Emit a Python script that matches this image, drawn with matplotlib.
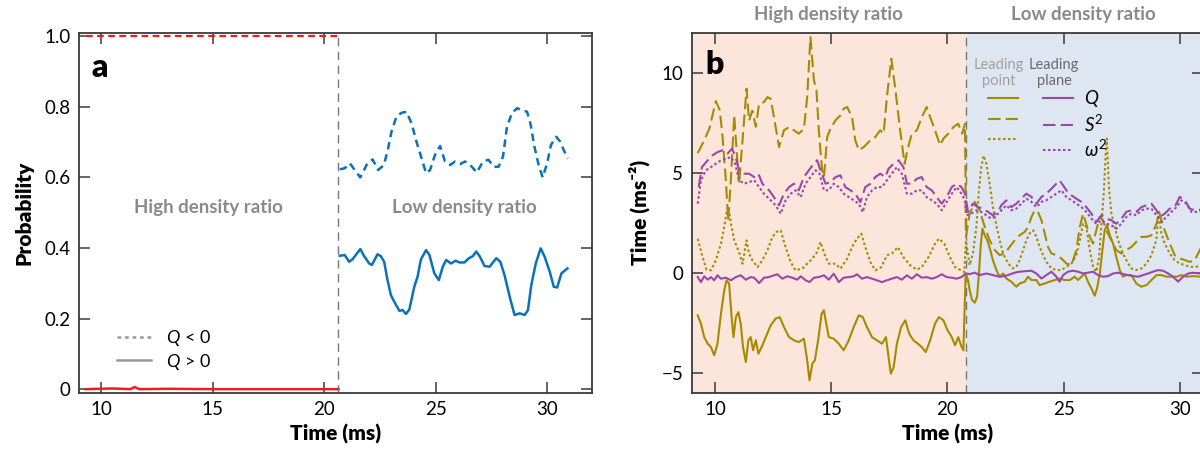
import numpy as np
import matplotlib
matplotlib.use("Agg")
import matplotlib.pyplot as plt
from matplotlib.lines import Line2D
import matplotlib.transforms as mtransforms

plt.rcParams["font.family"] = ["Lato", "DejaVu Sans"]
plt.rcParams["mathtext.fontset"] = "custom"
plt.rcParams["mathtext.rm"] = "Lato"
plt.rcParams["mathtext.it"] = "Lato:italic"
plt.rcParams["mathtext.bf"] = "Lato:bold"

# ---- panel a: probability of Q<0 / Q>0 ----
RED_T = [9.3, 10.5, 11.3, 11.5, 11.7, 13.0, 15.0, 17.0, 19.0, 20.65]
RED_NEG = [1.0, 1.0, 1.0, 1.0, 1.0, 1.0, 1.0, 1.0, 1.0, 1.0]
RED_POS = [0.0, 0.002, 0.0, 0.006, 0.0, 0.001, 0.0, 0.0, 0.0, 0.0]

BLUE_NEG_T = [20.70, 20.92, 21.15, 21.37, 21.62, 21.90, 22.17, 22.42, 22.68, 22.87,
              23.02, 23.24, 23.47, 23.69, 23.92, 24.14, 24.37, 24.57, 24.75, 24.97,
              25.20, 25.42, 25.65, 25.87, 26.10, 26.32, 26.55, 26.85, 27.12, 27.37,
              27.60, 27.82, 28.02, 28.20, 28.42, 28.65, 28.87, 29.10, 29.25, 29.43,
              29.62, 29.80, 30.00, 30.17, 30.41, 30.59, 30.74, 30.93]
BLUE_NEG = [0.623, 0.626, 0.640, 0.621, 0.600, 0.635, 0.651, 0.621, 0.635, 0.683,
            0.730, 0.772, 0.783, 0.786, 0.753, 0.701, 0.654, 0.612, 0.621, 0.664,
            0.689, 0.645, 0.635, 0.645, 0.638, 0.645, 0.635, 0.614, 0.645, 0.650,
            0.630, 0.630, 0.659, 0.744, 0.782, 0.796, 0.791, 0.786, 0.753, 0.687,
            0.635, 0.600, 0.640, 0.692, 0.715, 0.701, 0.678, 0.654]

BLUE_POS_T = [20.70, 20.92, 21.12, 21.27, 21.62, 21.79, 22.02, 22.14, 22.39, 22.54,
              22.69, 22.84, 22.99, 23.14, 23.37, 23.52, 23.67, 23.82, 24.04, 24.19,
              24.34, 24.57, 24.72, 24.94, 25.14, 25.32, 25.47, 25.69, 25.89, 26.07,
              26.29, 26.49, 26.67, 26.82, 26.97, 27.19, 27.42, 27.72, 27.90, 28.09,
              28.32, 28.54, 28.77, 28.99, 29.14, 29.29, 29.49, 29.71, 29.89, 30.12,
              30.30, 30.45, 30.64, 30.91]
BLUE_POS = [0.378, 0.380, 0.361, 0.368, 0.397, 0.377, 0.356, 0.352, 0.382, 0.377,
            0.361, 0.309, 0.267, 0.248, 0.222, 0.224, 0.213, 0.226, 0.290, 0.319,
            0.368, 0.394, 0.380, 0.328, 0.309, 0.347, 0.366, 0.356, 0.364, 0.359,
            0.359, 0.371, 0.377, 0.390, 0.377, 0.349, 0.347, 0.371, 0.361, 0.323,
            0.262, 0.210, 0.215, 0.210, 0.224, 0.295, 0.356, 0.399, 0.375, 0.332,
            0.290, 0.288, 0.328, 0.342]

# ---- panel b: leading point (gold) / leading plane (purple) ----
PT_Q_T = [9.26, 9.40, 9.54, 9.69, 9.83, 9.97, 10.11, 10.26, 10.40, 10.50, 10.61, 10.73,
          10.80, 10.90, 11.01, 11.11, 11.21, 11.33, 11.44, 11.54, 11.64, 11.76, 11.87,
          12.01, 12.19, 12.40, 12.61, 12.79, 12.97, 13.19, 13.40, 13.61, 13.83, 13.97,
          14.07, 14.19, 14.30, 14.44, 14.59, 14.69, 14.79, 14.90, 15.11, 15.33, 15.54,
          15.76, 15.97, 16.19, 16.36, 16.54, 16.76, 16.97, 17.19, 17.36, 17.47, 17.57,
          17.69, 17.83, 18.01, 18.19, 18.36, 18.54, 18.73, 18.90, 19.07, 19.26, 19.47,
          19.64, 19.83, 20.01, 20.19, 20.33, 20.47, 20.61, 20.69,
          20.79, 20.89, 20.96, 21.06, 21.18, 21.28, 21.36, 21.43, 21.51, 21.61, 21.72,
          21.85, 21.96, 22.11, 22.25, 22.40, 22.54, 22.75, 22.97, 23.11, 23.33, 23.47,
          23.62, 23.83, 23.97, 24.19, 24.40, 24.62, 24.83, 25.05, 25.27, 25.48, 25.62,
          25.77, 25.91, 26.05, 26.20, 26.34, 26.44, 26.56, 26.67, 26.77, 26.87, 26.99,
          27.13, 27.27, 27.42, 27.56, 27.70, 27.92, 28.13, 28.35, 28.57, 28.78, 29.00,
          29.21, 29.43, 29.64, 29.86, 30.07, 30.29, 30.57, 30.86, 31.0]
PT_Q = [-2.13, -2.55, -3.22, -3.55, -3.72, -4.13, -3.55, -2.05, -0.88, -0.38, -0.55, -2.38,
        -3.22, -2.22, -1.97, -2.55, -3.72, -4.47, -3.38, -3.22, -3.88, -3.38, -4.05,
        -3.72, -3.22, -2.63, -2.30, -2.22, -2.72, -3.22, -3.38, -3.47, -3.30, -4.38,
        -5.38, -4.55, -4.38, -3.38, -2.05, -1.88, -2.55, -3.22, -3.30, -3.55, -3.88,
        -3.38, -2.72, -2.13, -2.22, -2.72, -3.22, -3.38, -3.55, -3.22, -4.22, -5.05,
        -4.72, -3.55, -2.72, -2.38, -3.05, -3.38, -3.55, -3.72, -3.97, -3.38, -2.55,
        -2.22, -2.38, -2.88, -3.22, -3.63, -3.22, -3.70, -3.88,
        -0.04, -0.37, -0.87, -1.36, -1.50, -1.20, -0.04, 1.29, 2.20, 1.87, 1.62,
        1.13, 0.63, 0.13, -0.20, -0.04, -0.29, -0.45, -0.70, -0.54, -0.45, -0.20,
        -0.37, -0.37, -0.62, -0.54, -0.45, -0.37, -0.29, -0.37, -0.37, -0.20, -0.37,
        -0.20, -0.04, -0.45, -0.79, -1.15, -0.79, -0.04, 1.12, 2.12, 2.37, 1.87,
        1.46, 0.79, 0.13, -0.20, -0.12, -0.12, -0.54, -0.70, -0.62, -0.37, -0.12,
        -0.12, -0.20, -0.20, -0.20, -0.12, -0.20, -0.17, -0.20, -0.2]

PT_S2_T = [9.26, 9.54, 9.76, 10.04, 10.21, 10.33, 10.47, 10.57, 10.68, 10.83, 10.94, 11.04,
           11.20, 11.36, 11.47, 11.61, 11.76, 11.90, 12.11, 12.26, 12.40, 12.54, 12.76,
           12.97, 13.19, 13.40, 13.61, 13.83, 13.97, 14.11, 14.26, 14.37, 14.47, 14.61,
           14.69, 14.83, 14.97, 15.19, 15.40, 15.54, 15.69, 15.90, 16.04, 16.19, 16.40,
           16.69, 16.90, 17.11, 17.26, 17.40, 17.59, 17.76, 17.97, 18.16, 18.30, 18.47,
           18.69, 18.90, 19.11, 19.26, 19.47, 19.69, 19.83, 20.04, 20.26, 20.47, 20.64,
           20.76,
           20.80, 20.96, 21.18, 21.39, 21.61, 21.82, 22.04, 22.25, 22.47, 22.68, 22.90,
           23.11, 23.33, 23.47, 23.62, 23.76, 23.90, 24.05, 24.19, 24.33, 24.48, 24.69,
           24.91, 25.12, 25.34, 25.55, 25.70, 25.84, 25.95, 26.13, 26.27, 26.41, 26.56,
           26.70, 26.84, 27.06, 27.27, 27.49, 27.70, 27.92, 28.13, 28.35, 28.57, 28.78,
           29.00, 29.11, 29.21, 29.35, 29.57, 29.78, 30.00, 30.22, 30.43, 30.65, 30.79,
           30.86, 31.0]
PT_S2 = [5.98, 6.62, 7.20, 8.58, 8.12, 6.78, 4.62, 2.60, 4.50, 7.87, 6.00, 4.45,
         6.80, 9.20, 7.60, 8.10, 7.30, 8.45, 8.53, 8.78, 8.70, 7.78, 6.28,
         7.12, 7.28, 7.12, 6.95, 7.20, 8.78, 11.78, 9.62, 9.12, 7.12, 5.12,
         4.78, 6.78, 7.20, 7.62, 7.87, 8.20, 8.28, 7.78, 6.62, 6.12, 6.28,
         6.62, 6.78, 7.12, 6.95, 8.78, 10.70, 9.20, 7.12, 5.45, 6.20, 6.95,
         7.12, 7.78, 8.28, 7.78, 7.12, 6.37, 6.70, 6.95, 7.28, 7.45, 6.95,
         7.45,
         1.79, 2.95, 3.54, 3.12, 2.29, 1.62, 1.13, 0.88, 0.96, 1.29, 1.62,
         1.87, 2.04, 2.29, 2.79, 3.12, 3.04, 2.62, 1.96, 1.29, 0.96, 0.88,
         0.71, 0.46, 0.38, 1.13, 2.29, 2.95, 2.54, 1.79, 1.46, 2.12, 2.79,
         2.62, 2.12, 1.62, 1.13, 0.96, 1.13, 1.29, 1.54, 1.79, 1.79, 1.87,
         2.45, 3.04, 2.62, 2.12, 1.46, 0.88, 0.71, 0.63, 0.54, 0.63, 0.96,
         1.13, 1.4]

PT_W2_T = [9.26, 9.47, 9.64, 9.83, 10.04, 10.26, 10.40, 10.50, 10.58, 10.69, 10.83, 11.04,
           11.19, 11.36, 11.47, 11.61, 11.83, 12.04, 12.26, 12.47, 12.64, 12.83, 13.04,
           13.26, 13.47, 13.76, 13.97, 14.19, 14.40, 14.54, 14.76, 14.90, 15.19, 15.40,
           15.69, 15.90, 16.11, 16.30, 16.47, 16.69, 16.90, 17.16, 17.40, 17.61, 17.87,
           18.11, 18.40, 18.69, 18.90, 19.19, 19.47, 19.64, 19.87, 20.11, 20.33, 20.54,
           20.73,
           20.80, 20.96, 21.10, 21.25, 21.36, 21.46, 21.56, 21.68, 21.82, 21.96, 22.11,
           22.25, 22.40, 22.54, 22.68, 22.83, 22.97, 23.11, 23.26, 23.40, 23.54, 23.69,
           23.83, 23.97, 24.12, 24.26, 24.48, 24.69, 24.91, 25.12, 25.34, 25.55, 25.70,
           25.84, 25.98, 26.13, 26.27, 26.41, 26.53, 26.63, 26.73, 26.82, 26.86, 26.96,
           27.06, 27.20, 27.35, 27.49, 27.63, 27.78, 27.92, 28.13, 28.35, 28.57, 28.78,
           28.99, 29.08, 29.21, 29.35, 29.57, 29.78, 30.00, 30.22, 30.43, 30.65, 30.86,
           31.0]
PT_W2 = [1.70, 0.78, 0.15, 0.12, 0.62, 1.45, 2.28, 3.00, 3.30, 2.45, 1.62, 1.03,
         0.45, 1.62, 0.95, 0.62, 0.28, 0.62, 1.12, 1.78, 2.03, 2.12, 1.28,
         0.53, 0.12, 0.20, 0.45, 0.70, 1.03, 1.53, 0.78, 0.45, 0.45, 0.20,
         0.70, 1.28, 1.70, 1.95, 1.28, 0.53, 0.12, 0.28, 0.87, 0.95, 1.28,
         0.78, 0.37, 0.15, 0.28, 0.78, 1.45, 1.70, 1.45, 0.78, 0.28, 0.15,
         0.03,
         1.60, 0.38, 0.96, 2.29, 4.12, 5.28, 5.85, 5.45, 4.45, 3.28, 2.37,
         1.62, 0.96, 0.63, 0.38, 0.21, 0.29, 0.63, 1.13, 1.62, 1.96, 2.12,
         1.79, 1.29, 0.88, 0.54, 0.21, 0.13, 0.13, 0.29, 0.46, 0.88, 1.62,
         2.45, 2.29, 1.13, 0.29, 0.05, 0.79, 2.45, 3.95, 6.11, 6.70, 4.12,
         2.95, 2.29, 1.62, 1.13, 0.79, 0.46, 0.21, 0.13, 0.21, 0.46, 0.88,
         1.62, 3.00, 1.96, 1.46, 0.96, 0.63, 0.46, 0.38, 0.29, 0.29, 0.33,
         0.35]

PL_Q_T = [9.26, 9.40, 9.54, 9.69, 9.83, 9.97, 10.11, 10.26, 10.47, 10.69, 10.90, 11.11,
          11.33, 11.54, 11.69, 11.90, 12.11, 12.33, 12.54, 12.69, 12.90, 13.11, 13.33,
          13.54, 13.69, 13.90, 14.07, 14.26, 14.47, 14.69, 14.90, 15.11, 15.33, 15.54,
          15.76, 15.97, 16.11, 16.33, 16.54, 16.76, 16.97, 17.19, 17.40, 17.61, 17.83,
          18.04, 18.26, 18.47, 18.69, 18.90, 19.11, 19.33, 19.54, 19.76, 19.97, 20.19,
          20.40, 20.61,
          20.80, 20.96, 21.18, 21.39, 21.68, 21.96, 22.25, 22.47, 22.68, 22.90, 23.11,
          23.40, 23.62, 23.83, 24.05, 24.26, 24.48, 24.69, 24.83, 24.98, 25.19, 25.41,
          25.62, 25.84, 26.05, 26.27, 26.48, 26.70, 26.92, 27.13, 27.35, 27.56, 27.78,
          27.99, 28.21, 28.42, 28.64, 28.85, 29.07, 29.28, 29.50, 29.71, 29.93, 30.14,
          30.36, 30.57, 30.86, 31.0]
PL_Q = [-0.22, -0.47, -0.18, -0.35, -0.22, -0.38, -0.13, -0.30, -0.25, -0.38, -0.22, -0.13,
        -0.35, -0.22, -0.25, -0.52, -0.25, -0.22, -0.13, -0.08, -0.30, -0.18, -0.25,
        -0.35, -0.18, -0.38, -0.47, -0.25, -0.22, -0.13, -0.35, -0.05, -0.47, -0.25,
        -0.22, -0.18, -0.08, -0.30, -0.22, -0.30, -0.38, -0.47, -0.38, -0.30, -0.22,
        -0.35, -0.13, -0.30, -0.08, -0.25, -0.22, -0.30, -0.22, -0.08, -0.22, -0.25,
        -0.30, -0.22,
        -0.04, -0.07, 0.00, -0.12, -0.04, -0.12, -0.20, -0.17, -0.09, 0.00, 0.05,
        0.08, 0.10, -0.04, -0.29, -0.12, 0.05, -0.20, -0.45, -0.12, 0.05, 0.10,
        0.05, -0.04, 0.00, 0.05, -0.12, -0.20, -0.17, -0.04, 0.00, -0.07, -0.12,
        -0.17, -0.20, -0.12, -0.04, 0.05, 0.13, 0.10, -0.04, -0.20, -0.45, -0.20,
        -0.04, 0.00, -0.04, -0.05]

PL_S2_T = [9.30, 9.44, 9.69, 9.90, 10.11, 10.33, 10.54, 10.73, 10.87, 11.04, 11.26, 11.47,
           11.69, 11.87, 12.04, 12.33, 12.54, 12.76, 12.97, 13.19, 13.40, 13.61, 13.83,
           14.04, 14.26, 14.40, 14.54, 14.76, 14.97, 15.19, 15.40, 15.61, 15.83, 16.04,
           16.26, 16.47, 16.69, 16.90, 17.11, 17.33, 17.47, 17.69, 17.90, 18.11, 18.26,
           18.47, 18.69, 18.90, 19.11, 19.33, 19.54, 19.76, 19.97, 20.19, 20.40, 20.61,
           20.76,
           20.89, 21.10, 21.32, 21.53, 21.75, 21.96, 22.18, 22.32, 22.54, 22.75, 22.97,
           23.18, 23.40, 23.62, 23.83, 24.05, 24.26, 24.48, 24.69, 24.83, 24.98, 25.12,
           25.34, 25.55, 25.77, 25.98, 26.20, 26.41, 26.63, 26.84, 27.06, 27.27, 27.49,
           27.70, 27.92, 28.13, 28.35, 28.57, 28.78, 29.00, 29.14, 29.35, 29.57, 29.78,
           30.00, 30.22, 30.43, 30.65, 30.86, 31.0]
PL_S2 = [4.28, 5.28, 5.62, 5.87, 6.03, 6.12, 5.95, 6.20, 5.87, 5.12, 4.95, 4.95,
         4.78, 4.95, 4.45, 4.12, 3.78, 3.37, 3.95, 4.28, 4.45, 4.12, 4.78,
         5.12, 5.45, 5.62, 5.12, 4.45, 4.53, 4.78, 4.87, 4.28, 4.12, 3.95,
         3.53, 4.28, 4.45, 4.78, 4.95, 4.78, 5.20, 5.45, 5.62, 5.28, 4.45,
         4.45, 4.70, 4.78, 4.28, 4.12, 3.78, 3.45, 3.78, 4.28, 4.45, 4.28,
         3.95,
         3.04, 3.45, 3.28, 3.20, 3.04, 2.87, 3.04, 3.37, 3.62, 3.28, 3.45,
         3.70, 3.95, 3.79, 3.45, 3.79, 3.95, 4.20, 4.45, 4.61, 4.37, 4.12,
         3.87, 3.70, 3.54, 3.28, 2.95, 2.54, 2.87, 2.70, 2.62, 2.45, 2.70,
         3.04, 3.12, 3.04, 3.28, 3.37, 3.45, 3.12, 2.79, 2.95, 3.20, 3.28,
         3.79, 3.62, 3.20, 3.12, 3.15, 3.1]

PL_W2_T = [9.26, 9.40, 9.61, 9.83, 10.04, 10.26, 10.47, 10.69, 10.87, 11.04, 11.26, 11.47,
           11.69, 11.90, 12.11, 12.40, 12.61, 12.83, 13.04, 13.26, 13.47, 13.69, 13.90,
           14.11, 14.33, 14.50, 14.69, 14.90, 15.11, 15.33, 15.54, 15.76, 15.97, 16.19,
           16.36, 16.54, 16.76, 16.97, 17.19, 17.40, 17.61, 17.83, 18.04, 18.26, 18.47,
           18.69, 18.90, 19.11, 19.33, 19.54, 19.76, 19.97, 20.19, 20.40, 20.61, 20.76,
           20.82, 21.03, 21.25, 21.46, 21.68, 21.89, 22.11, 22.32, 22.54, 22.75, 22.97,
           23.18, 23.40, 23.62, 23.83, 24.05, 24.26, 24.48, 24.69, 24.91, 25.12, 25.34,
           25.55, 25.77, 25.98, 26.20, 26.41, 26.63, 26.84, 27.06, 27.27, 27.49, 27.70,
           27.92, 28.13, 28.35, 28.57, 28.78, 29.00, 29.21, 29.43, 29.64, 29.86, 30.07,
           30.29, 30.50, 30.72, 30.86, 31.0]
PL_W2 = [3.45, 4.62, 5.12, 5.28, 5.45, 5.62, 5.70, 5.78, 5.45, 4.62, 4.45, 4.53,
         4.62, 4.28, 3.95, 3.62, 3.37, 2.95, 3.62, 3.95, 4.12, 3.78, 4.45,
         4.78, 5.12, 4.95, 4.12, 4.12, 4.45, 4.28, 3.95, 3.78, 3.62, 3.45,
         3.03, 3.78, 4.12, 4.28, 4.28, 4.62, 4.95, 5.28, 4.95, 3.95, 3.95,
         4.12, 4.12, 3.78, 3.62, 3.45, 3.12, 3.53, 3.95, 4.28, 3.95, 3.62,
         2.87, 2.95, 3.12, 3.04, 2.87, 2.70, 2.87, 3.12, 3.37, 3.12, 3.20,
         3.45, 3.70, 3.54, 3.28, 3.54, 3.62, 3.79, 3.95, 4.12, 3.79, 3.62,
         3.45, 3.28, 3.04, 2.70, 2.45, 2.62, 2.45, 2.37, 2.20, 2.45, 2.79,
         2.95, 2.87, 3.12, 3.20, 3.20, 2.87, 2.54, 2.79, 3.04, 3.28, 3.62,
         3.45, 3.04, 3.04, 3.09, 3.05]

SPLIT_A = 20.64
SPLIT_B = 20.80

RED = "#ed1c24"
BLUE = "#0a72bb"
GOLD = "#a68b00"
PURPLE = "#9a47aa"
GRAY_TXT = "#8a8a8a"
SPINE = "#3a3a3a"


def style_axes(ax):
    for s in ax.spines.values():
        s.set_color(SPINE)
        s.set_linewidth(1.3)
    ax.tick_params(direction="in", length=8, width=1.1, top=True, right=True,
                   colors=SPINE, labelcolor="black", labelsize=13.5, pad=6)


def panel_a(ax):
    ax.plot(RED_T, RED_NEG, color=RED, lw=1.6, ls=(0, (3, 2)))
    ax.plot(RED_T, RED_POS, color=RED, lw=1.8)
    ax.plot(BLUE_NEG_T, BLUE_NEG, color=BLUE, lw=1.8, ls=(0, (3, 2)))
    ax.plot(BLUE_POS_T, BLUE_POS, color=BLUE, lw=1.8)
    ax.axvline(SPLIT_A, color="#777777", lw=1.0, ls=(0, (6, 4)))
    ax.set_xlim(9, 32)
    ax.set_ylim(-0.01, 1.01)
    ax.set_xticks([10, 15, 20, 25, 30])
    ax.set_yticks([0, 0.2, 0.4, 0.6, 0.8, 1.0])
    ax.set_yticklabels(["0", "0.2", "0.4", "0.6", "0.8", "1.0"])
    ax.set_xlabel("Time (ms)", fontsize=15, fontweight="heavy", labelpad=4)
    ax.set_ylabel("Probability", fontsize=15, fontweight="heavy", labelpad=8)
    style_axes(ax)
    ax.text(9.55, 0.91, "a", fontsize=23, fontweight="heavy", va="center")
    ax.text(14.8, 0.515, "High density ratio", color=GRAY_TXT, fontsize=13.5,
            fontweight="bold", ha="center", va="center")
    ax.text(26.3, 0.515, "Low density ratio", color=GRAY_TXT, fontsize=13.5,
            fontweight="bold", ha="center", va="center")
    handles = [Line2D([], [], color="#999999", lw=1.8, ls=(0, (1.5, 1.5))),
               Line2D([], [], color="#999999", lw=1.8)]
    ax.legend(handles, [r"$Q$ < 0", r"$Q$ > 0"], loc="upper left",
              bbox_to_anchor=(0.074, 0.18), frameon=False, fontsize=13,
              handlelength=1.9, handletextpad=0.8, labelspacing=0.2,
              borderpad=0, borderaxespad=0)


def panel_b(ax):
    ax.axvspan(9, SPLIT_B, color="#fce5da", lw=0, zorder=0)
    ax.axvspan(SPLIT_B, 31, color="#dee6f2", lw=0, zorder=0)
    ax.axvline(SPLIT_B, color="#777777", lw=1.0, ls=(0, (6, 4)))
    lw = 1.5
    ax.plot(PT_Q_T, PT_Q, color=GOLD, lw=lw)
    ax.plot(PT_S2_T, PT_S2, color=GOLD, lw=lw, ls=(0, (6, 2.5)))
    ax.plot(PT_W2_T, PT_W2, color=GOLD, lw=lw, ls=(0, (1.2, 1.2)))
    ax.plot(PL_Q_T, PL_Q, color=PURPLE, lw=lw)
    ax.plot(PL_S2_T, PL_S2, color=PURPLE, lw=lw, ls=(0, (6, 2.5)))
    ax.plot(PL_W2_T, PL_W2, color=PURPLE, lw=lw, ls=(0, (1.2, 1.2)))
    ax.set_xlim(9, 31)
    ax.set_ylim(-6, 12)
    ax.set_xticks([10, 15, 20, 25, 30])
    ax.set_yticks([-5, 0, 5, 10])
    ax.set_yticklabels(["\u22125", "0", "5", "10"])
    ax.set_xlabel("Time (ms)", fontsize=15, fontweight="heavy", labelpad=4)
    ax.set_ylabel("Time (ms\u207b\u00b2)", fontsize=15, fontweight="heavy", labelpad=8,
                  family=["Lato", "DejaVu Sans"])
    style_axes(ax)
    ax.text(9.6, 10.4, "b", fontsize=23, fontweight="heavy", va="center")

    top = mtransforms.blended_transform_factory(ax.transData, ax.transAxes)
    ax.text(14.87, 1.05, "High density ratio", color=GRAY_TXT, fontsize=13.5,
            fontweight="bold", ha="center", va="center", transform=top)
    ax.text(25.85, 1.05, "Low density ratio", color=GRAY_TXT, fontsize=13.5,
            fontweight="bold", ha="center", va="center", transform=top)

    ax.text(22.2, 10.0, "Leading\npoint", color="#a0a0a0", fontsize=10.5,
            ha="center", va="center", linespacing=1.2)
    ax.text(24.6, 10.0, "Leading\nplane", color="#6a6a6a", fontsize=10.5,
            ha="center", va="center", linespacing=1.2)
    handles = [Line2D([], [], color=GOLD, lw=lw),
               Line2D([], [], color=GOLD, lw=lw, ls=(0, (6, 2.5))),
               Line2D([], [], color=GOLD, lw=lw, ls=(0, (1.2, 1.2))),
               Line2D([], [], color=PURPLE, lw=lw),
               Line2D([], [], color=PURPLE, lw=lw, ls=(0, (6, 2.5))),
               Line2D([], [], color=PURPLE, lw=lw, ls=(0, (1.2, 1.2)))]
    labels = ["", "", "", r"$Q$", r"$S^2$", r"$\omega^2$"]
    ax.legend(handles, labels, ncol=2, loc="upper left",
              bbox_to_anchor=(0.579, 0.845), frameon=False, fontsize=13.5,
              handlelength=1.6, handletextpad=0.6, columnspacing=0.75,
              labelspacing=0.2, borderpad=0, borderaxespad=0)


def main() -> None:
    fig = plt.figure(figsize=(12, 4.49), dpi=100)
    ax_a = fig.add_axes([0.0658, 0.1254, 0.4273, 0.8018])
    ax_b = fig.add_axes([0.5764, 0.1254, 0.4261, 0.8018])
    panel_a(ax_a)
    panel_b(ax_b)
    fig.savefig("out.png", dpi=100)


if __name__ == "__main__":
    main()
